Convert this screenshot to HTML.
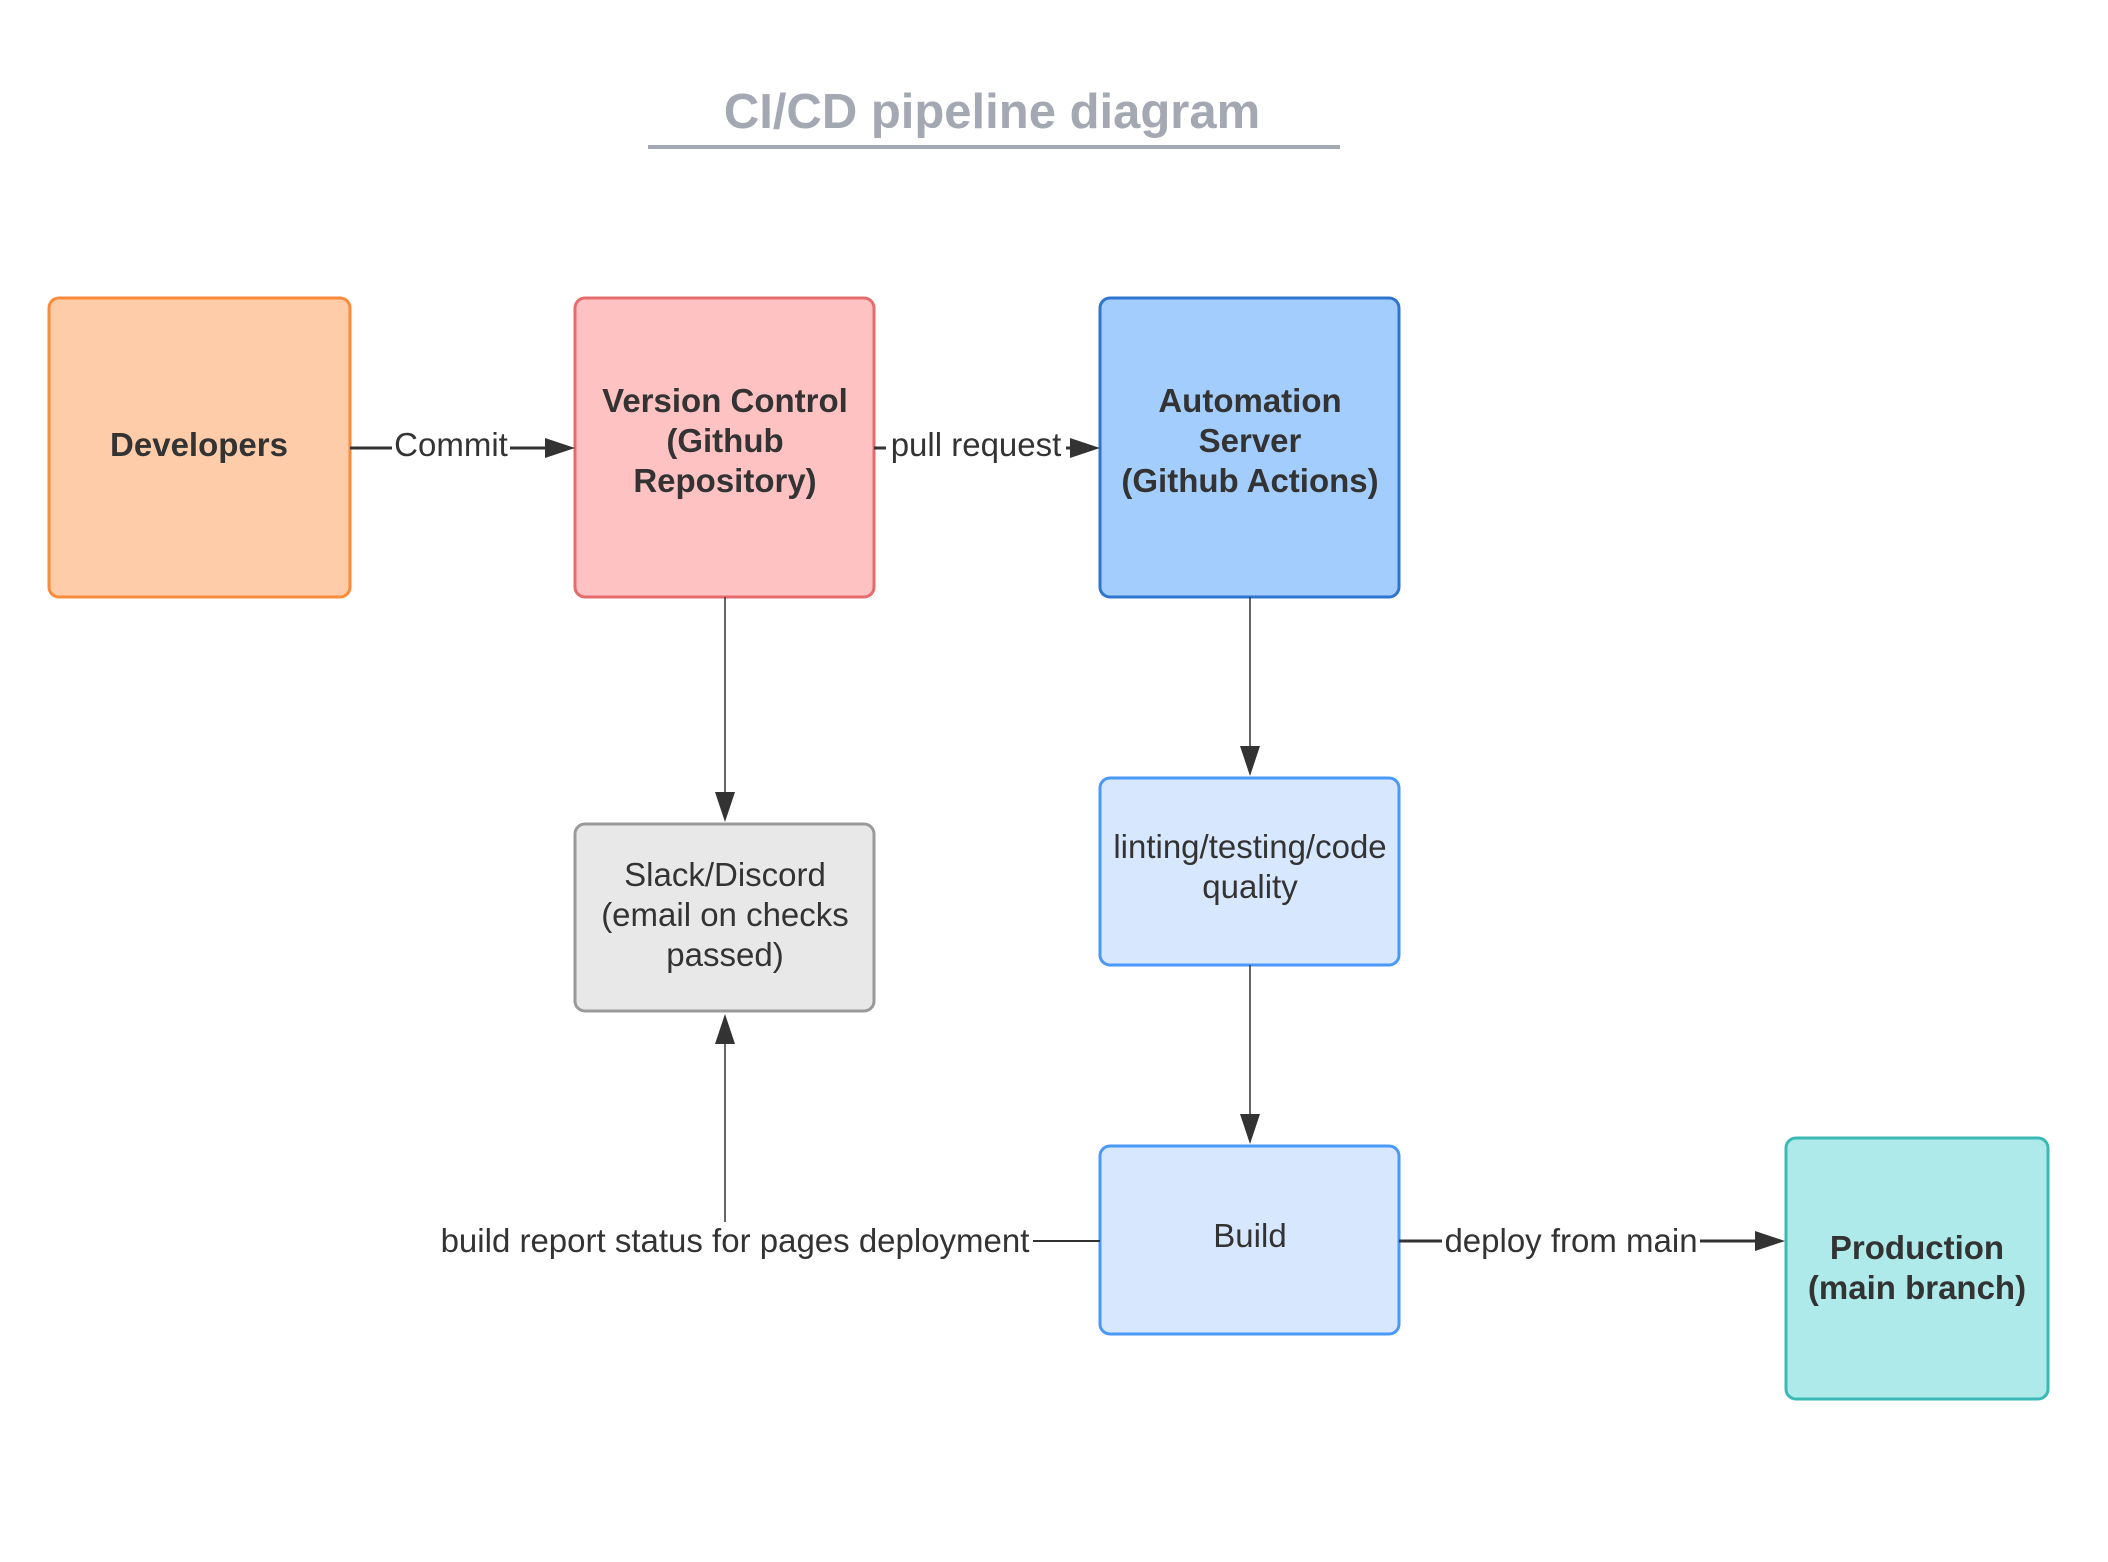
<!DOCTYPE html>
<html><head><meta charset="utf-8"><style>
html,body{margin:0;padding:0;background:#fff;}
svg{display:block;}
text{font-family:"Liberation Sans",Arial,sans-serif;fill:#333;}
</style></head><body>
<svg width="2108" height="1562" viewBox="0 0 2108 1562" xmlns="http://www.w3.org/2000/svg">
<rect width="2108" height="1562" fill="#fff"/>
<text x="992" y="128" font-size="49" font-weight="bold" text-anchor="middle" style="fill:#a3a8b3">CI/CD pipeline diagram</text>
<rect x="648" y="145" width="692" height="4" fill="#a3a8b3"/>

<rect x="49" y="298" width="301" height="299" rx="10" fill="#fecca9" stroke="#f98b3b" stroke-width="3"/>
<rect x="575" y="298" width="299" height="299" rx="10" fill="#fec2c3" stroke="#e66b6d" stroke-width="3"/>
<rect x="1100" y="298" width="299" height="299" rx="10" fill="#a3cdfd" stroke="#2f75d0" stroke-width="3"/>
<rect x="575" y="824" width="299" height="187" rx="10" fill="#e8e8e8" stroke="#9a9a9a" stroke-width="3"/>
<rect x="1100" y="778" width="299" height="187" rx="10" fill="#d7e8fe" stroke="#4a98f7" stroke-width="3"/>
<rect x="1100" y="1146" width="299" height="188" rx="10" fill="#d7e8fe" stroke="#4a98f7" stroke-width="3"/>
<rect x="1786" y="1138" width="262" height="261" rx="10" fill="#aeeaea" stroke="#3ab9b6" stroke-width="3"/>

<g font-size="33" font-weight="bold" text-anchor="middle">
<text x="199" y="456">Developers</text>
<text x="725" y="412">Version Control</text>
<text x="725" y="452">(Github</text>
<text x="725" y="492">Repository)</text>
<text x="1250" y="412">Automation</text>
<text x="1250" y="452">Server</text>
<text x="1250" y="492">(Github Actions)</text>
<text x="1917" y="1259">Production</text>
<text x="1917" y="1299">(main branch)</text>
</g>
<g font-size="33" text-anchor="middle">
<text x="725" y="886">Slack/Discord</text>
<text x="725" y="926">(email on checks</text>
<text x="725" y="966">passed)</text>
<text x="1250" y="858">linting/testing/code</text>
<text x="1250" y="898">quality</text>
<text x="1250" y="1247">Build</text>
</g>

<g stroke="#333" fill="none">
<line x1="350" y1="448" x2="392" y2="448" stroke-width="3"/>
<line x1="510" y1="448" x2="554" y2="448" stroke-width="3"/>
<line x1="874" y1="448" x2="886" y2="448" stroke-width="3"/>
<line x1="1066" y1="448" x2="1080" y2="448" stroke-width="3"/>
<line x1="725" y1="597" x2="725" y2="805" stroke-width="1.5"/>
<line x1="1250" y1="597" x2="1250" y2="759" stroke-width="1.5"/>
<line x1="1250" y1="965" x2="1250" y2="1127" stroke-width="1.5"/>
<line x1="1033" y1="1241" x2="1100" y2="1241" stroke-width="2"/>
<line x1="725" y1="1222" x2="725" y2="1033" stroke-width="1.5"/>
<line x1="1399" y1="1241" x2="1442" y2="1241" stroke-width="3"/>
<line x1="1700" y1="1241" x2="1766" y2="1241" stroke-width="3"/>
</g>
<g fill="#333">
<polygon points="575,448 545,438 545,458"/>
<polygon points="1100,448 1070,438 1070,458"/>
<polygon points="725,822 715,792 735,792"/>
<polygon points="1250,776 1240,746 1260,746"/>
<polygon points="1250,1144 1240,1114 1260,1114"/>
<polygon points="725,1014 715,1044 735,1044"/>
<polygon points="1785,1241 1755,1231 1755,1251"/>
</g>
<g font-size="33" text-anchor="middle">
<text x="451" y="456">Commit</text>
<text x="976" y="456">pull request</text>
<text x="735" y="1252">build report status for pages deployment</text>
<text x="1571" y="1252">deploy from main</text>
</g>
</svg>
</body></html>
